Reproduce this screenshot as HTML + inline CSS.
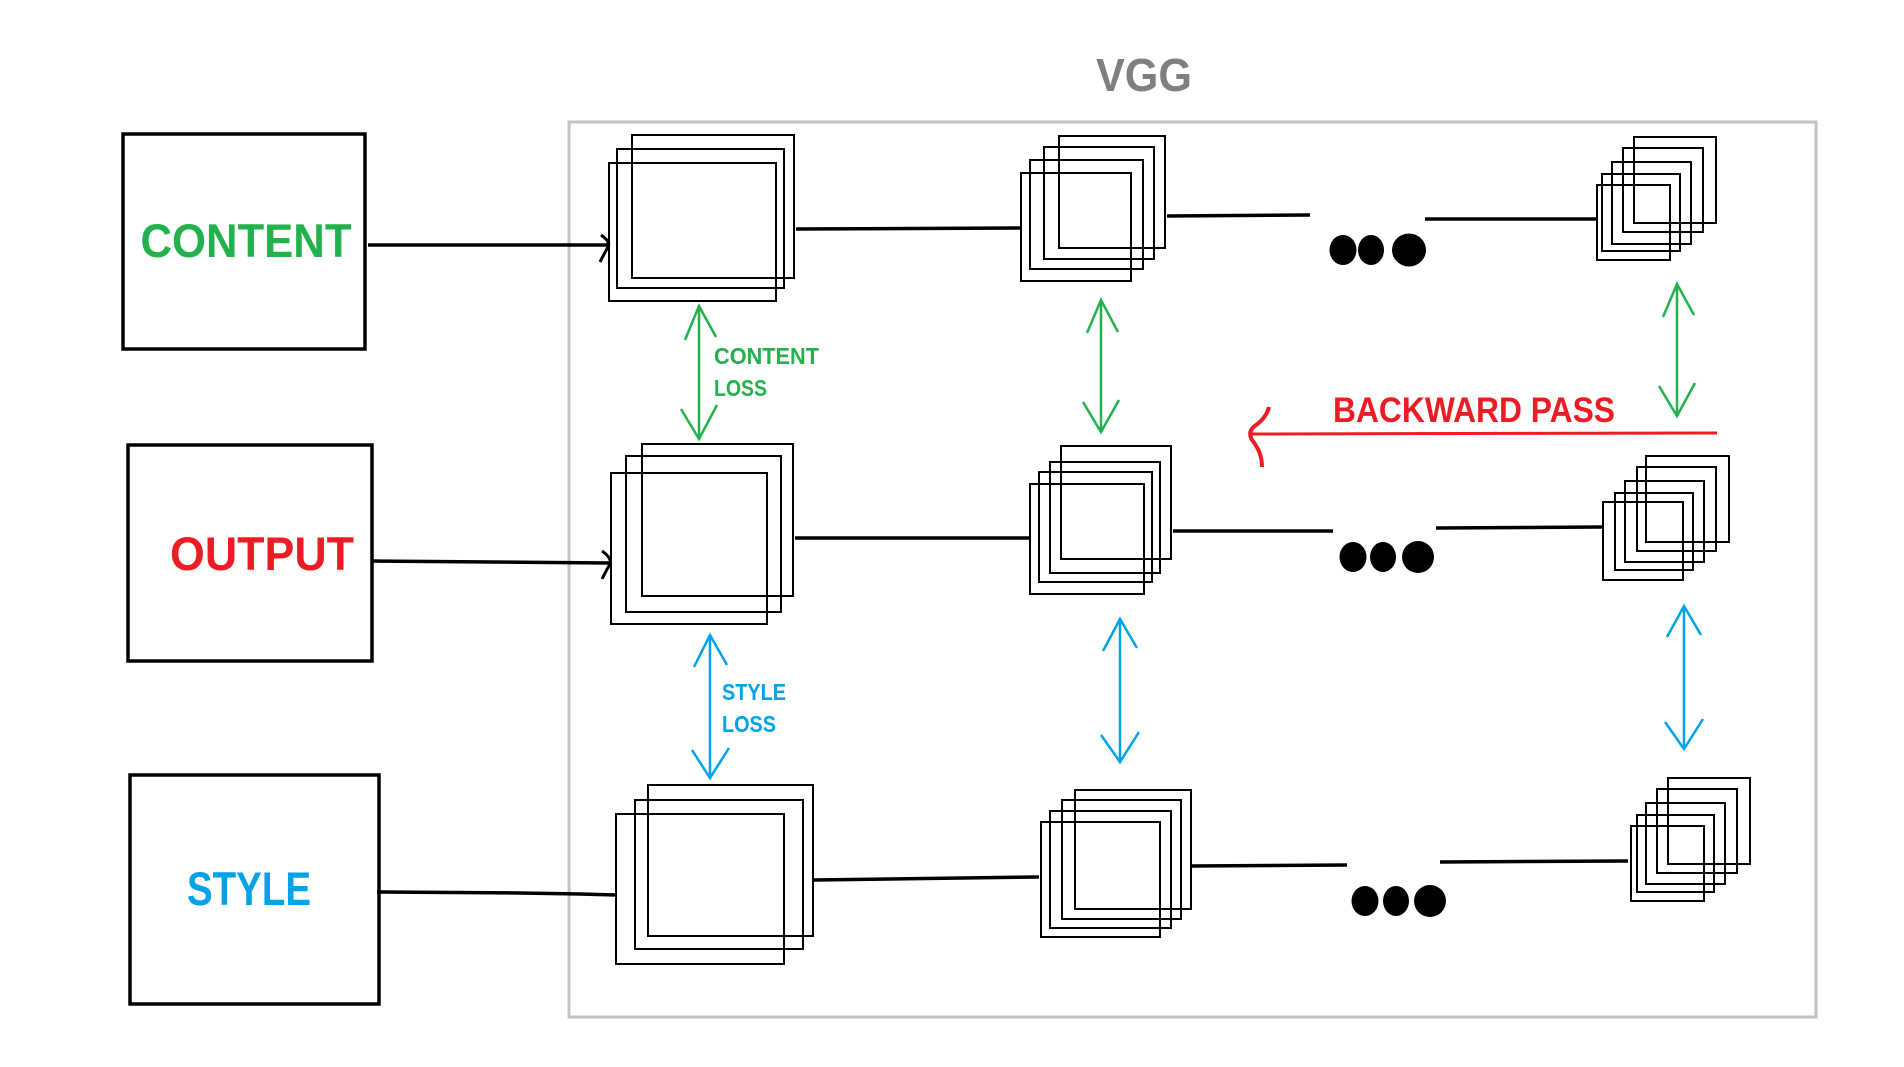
<!DOCTYPE html>
<html><head><meta charset="utf-8"><style>
html,body{margin:0;padding:0;background:#fff;}
svg{display:block;}
text{font-family:"Liberation Sans",sans-serif;font-weight:bold;}
</style></head><body>
<svg width="1904" height="1067" viewBox="0 0 1904 1067" xmlns="http://www.w3.org/2000/svg">
<rect x="0" y="0" width="1904" height="1067" fill="#fff"/>
<!-- VGG container -->
<rect x="569" y="122" width="1247" height="895" fill="none" stroke="#c3c3c3" stroke-width="3"/>
<text x="1144" y="91" font-size="46" fill="#7f7f7f" text-anchor="middle" textLength="96" lengthAdjust="spacingAndGlyphs">VGG</text>

<!-- Input boxes -->
<rect x="123" y="134" width="242" height="215" fill="none" stroke="#000" stroke-width="3.5"/>
<text x="246" y="257" font-size="47" fill="#22b14c" text-anchor="middle" textLength="211" lengthAdjust="spacingAndGlyphs">CONTENT</text>
<rect x="128" y="445" width="244" height="216" fill="none" stroke="#000" stroke-width="3.5"/>
<text x="262" y="570" font-size="47" fill="#ed1c24" text-anchor="middle" textLength="184" lengthAdjust="spacingAndGlyphs">OUTPUT</text>
<rect x="130" y="775" width="249" height="229" fill="none" stroke="#000" stroke-width="3.5"/>
<text x="249" y="905" font-size="47" fill="#00a2e8" text-anchor="middle" textLength="124" lengthAdjust="spacingAndGlyphs">STYLE</text>

<g fill="none" stroke="#000" stroke-width="3.5">
<!-- input connectors -->
<line x1="368" y1="245" x2="608" y2="245"/>
<path d="M601 235 Q611 242 608 247 Q604 254 600 262" stroke-width="3"/>
<line x1="373" y1="561" x2="609" y2="563"/>
<path d="M602 551 Q612 558 610 564 Q606 571 602 579" stroke-width="3"/>
<polyline points="377,892 520,893 580,894 616,895"/>
<!-- top row lines -->
<line x1="796" y1="229" x2="1021" y2="228"/>
<line x1="1167" y1="216" x2="1310" y2="215"/>
<line x1="1425" y1="219" x2="1597" y2="219"/>
<!-- middle row -->
<line x1="795" y1="538" x2="1030" y2="538"/>
<line x1="1173" y1="531" x2="1333" y2="531"/>
<line x1="1436" y1="528" x2="1603" y2="527"/>
<!-- bottom row -->
<line x1="814" y1="880" x2="1039" y2="877"/>
<line x1="1191" y1="866" x2="1347" y2="865"/>
<line x1="1440" y1="862" x2="1628" y2="861"/>
</g>

<g fill="none" stroke="#000" stroke-width="2">
<!-- top layer 1 -->
<rect x="632" y="135" width="162" height="143"/>
<rect x="617" y="149" width="167" height="139"/>
<rect x="609" y="163" width="167" height="138"/>
<!-- top layer 2 -->
<rect x="1059" y="136" width="106" height="112"/>
<rect x="1044" y="147" width="110" height="112"/>
<rect x="1030" y="160" width="113" height="109"/>
<rect x="1021" y="173" width="110" height="108"/>
<!-- top layer 3 -->
<rect x="1634" y="137" width="82" height="86"/>
<rect x="1623" y="148" width="80" height="84"/>
<rect x="1612" y="162" width="79" height="82"/>
<rect x="1602" y="174" width="78" height="77"/>
<rect x="1597" y="185" width="73" height="75"/>
<!-- mid layer 1 -->
<rect x="642" y="444" width="151" height="152"/>
<rect x="626" y="456" width="155" height="156"/>
<rect x="611" y="473" width="156" height="151"/>
<!-- mid layer 2 -->
<rect x="1061" y="446" width="110" height="113"/>
<rect x="1050" y="462" width="110" height="111"/>
<rect x="1039" y="472" width="113" height="110"/>
<rect x="1030" y="484" width="114" height="110"/>
<!-- mid layer 3 -->
<rect x="1646" y="456" width="83" height="86"/>
<rect x="1637" y="467" width="79" height="84"/>
<rect x="1625" y="481" width="79" height="81"/>
<rect x="1615" y="493" width="78" height="77"/>
<rect x="1603" y="502" width="80" height="78"/>
<!-- bottom layer 1 -->
<rect x="648" y="785" width="165" height="151"/>
<rect x="635" y="800" width="168" height="149"/>
<rect x="616" y="814" width="168" height="150"/>
<!-- bottom layer 2 -->
<rect x="1075" y="790" width="116" height="119"/>
<rect x="1062" y="800" width="119" height="119"/>
<rect x="1050" y="811" width="121" height="117"/>
<rect x="1041" y="822" width="119" height="115"/>
<!-- bottom layer 3 -->
<rect x="1668" y="778" width="82" height="86"/>
<rect x="1657" y="789" width="80" height="84"/>
<rect x="1646" y="803" width="79" height="81"/>
<rect x="1637" y="815" width="77" height="77"/>
<rect x="1631" y="826" width="73" height="75"/>
</g>

<!-- dots -->
<g fill="#000">
<ellipse cx="1343" cy="250" rx="13.5" ry="15"/>
<ellipse cx="1371" cy="250" rx="13" ry="15"/>
<ellipse cx="1409" cy="250" rx="17" ry="16.5"/>
<ellipse cx="1353" cy="557" rx="13.5" ry="15"/>
<ellipse cx="1383" cy="557" rx="13" ry="15"/>
<ellipse cx="1418" cy="557" rx="16" ry="16"/>
<ellipse cx="1365" cy="901" rx="13.5" ry="15"/>
<ellipse cx="1396" cy="901" rx="13" ry="15"/>
<ellipse cx="1430" cy="901" rx="16" ry="16"/>
</g>

<!-- green arrows -->
<g fill="none" stroke="#22b14c" stroke-width="2.5">
<line x1="699" y1="306" x2="699" y2="438"/>
<polyline points="685,340 699,306 716,337"/>
<polyline points="681,409 699,439 717,405"/>
<line x1="1101" y1="300" x2="1101" y2="432"/>
<polyline points="1087,333 1101,300 1118,332"/>
<polyline points="1083,402 1101,432 1119,400"/>
<line x1="1677" y1="284" x2="1677" y2="415"/>
<polyline points="1663,317 1677,284 1694,315"/>
<polyline points="1659,386 1677,416 1695,383"/>
</g>
<text x="714" y="364" font-size="23" fill="#22b14c" textLength="105" lengthAdjust="spacingAndGlyphs">CONTENT</text>
<text x="714" y="396" font-size="23" fill="#22b14c" textLength="53" lengthAdjust="spacingAndGlyphs">LOSS</text>

<!-- blue arrows -->
<g fill="none" stroke="#00a2e8" stroke-width="2.5">
<line x1="710" y1="635" x2="710" y2="777"/>
<polyline points="694,667 710,635 727,665"/>
<polyline points="692,750 710,778 729,748"/>
<line x1="1120" y1="619" x2="1120" y2="761"/>
<polyline points="1103,651 1120,619 1137,648"/>
<polyline points="1101,735 1120,762 1139,732"/>
<line x1="1684" y1="606" x2="1684" y2="748"/>
<polyline points="1667,637 1684,606 1701,635"/>
<polyline points="1665,722 1684,749 1703,719"/>
</g>
<text x="722" y="700" font-size="23" fill="#00a2e8" textLength="64" lengthAdjust="spacingAndGlyphs">STYLE</text>
<text x="722" y="732" font-size="23" fill="#00a2e8" textLength="54" lengthAdjust="spacingAndGlyphs">LOSS</text>

<!-- backward pass -->
<line x1="1250" y1="434" x2="1717" y2="433" stroke="#ed1c24" stroke-width="3"/>
<path d="M1269 407 Q1266 418 1256 425 Q1247 431 1252 440 Q1262 452 1262 467" fill="none" stroke="#ed1c24" stroke-width="4"/>
<text x="1333" y="422" font-size="35" fill="#ed1c24" textLength="282" lengthAdjust="spacingAndGlyphs">BACKWARD PASS</text>
</svg>
</body></html>
